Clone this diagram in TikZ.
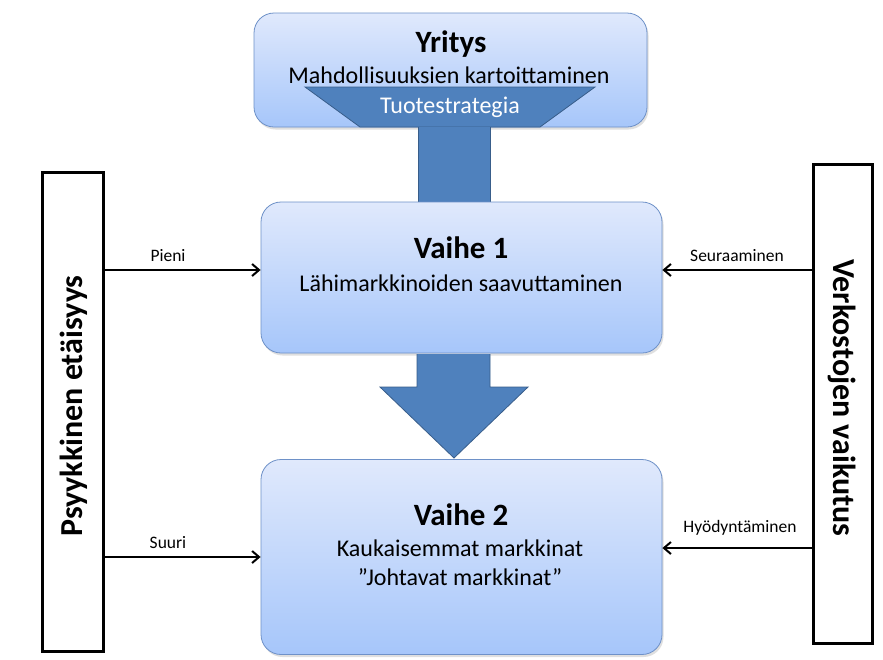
\documentclass[tikz,border=0pt]{standalone}
\usepackage{fontspec}
\setmainfont{Carlito}
\usetikzlibrary{arrows.meta,shadows}
\definecolor{boxtop}{RGB}{224,233,252}
\definecolor{boxbot}{RGB}{166,198,250}
\definecolor{boxline}{RGB}{110,145,200}
\definecolor{arrfill}{RGB}{79,129,189}
\definecolor{arrline}{RGB}{56,93,138}
\tikzset{
  stagebox/.style={draw=boxline, line width=0.8pt, rounded corners=20pt, top color=boxtop, bottom color=boxbot,
    drop shadow={opacity=0.25, shadow xshift=1.5pt, shadow yshift=-2.5pt}},
  sidebox/.style={draw=black, line width=3pt, fill=white},
  bigarrow/.style={fill=arrfill, draw=arrline, line width=0.8pt},
  conn/.style={draw=black, line width=2pt, -{Straight Barb[length=7pt,width=12pt,line width=2pt]}},
  ttl/.style={font=\fontsize{31}{36}\selectfont\bfseries},
  sub/.style={font=\fontsize{24}{28}\selectfont},
  lbl/.style={font=\fontsize{17.5}{20}\selectfont},
  side/.style={font=\fontsize{32}{36}\selectfont\bfseries},
}
\begin{document}
\begin{tikzpicture}[x=1pt,y=-1pt]
\useasboundingbox[fill=white] (0,0) rectangle (883,659);
% stem between top box and Vaihe 1
\path[bigarrow] (418,120) rectangle (490,210);
% top box
\node[stagebox, minimum width=393pt, minimum height=114pt, inner sep=0pt] (top) at (450.5,70) {};
\node[ttl] (ytitle) at (451,44) {Yritys};
\node[sub] (ysub) at (449,75) {Mahdollisuuksien kartoittaminen};
\path[bigarrow] (305,87) -- (595,87) -- (540,127) -- (360,127) -- cycle;
\node[sub, text=white] (tuote) at (450,107) {Tuotestrategia};
\path[bigarrow] (418,127.4) -- (418,205) -- (490,205) -- (490,127.4);
% Vaihe 1
\node[stagebox, minimum width=401pt, minimum height=151pt, inner sep=0pt] (v1) at (461.5,277.5) {};
\node[ttl] (v1t) at (461,248) {Vaihe 1};
\node[sub] (v1s) at (461,283) {Lähimarkkinoiden saavuttaminen};
% big down arrow
\path[bigarrow] (417,354) -- (417,387) -- (380,387) -- (454,458) -- (528,387) -- (490,387) -- (490,354);
% Vaihe 2
\node[stagebox, minimum width=401pt, minimum height=195pt, inner sep=0pt] (v2) at (461.5,557) {};
\node[ttl] (v2t) at (461,515) {Vaihe 2};
\node[sub] (v2s) at (460,548) {Kaukaisemmat markkinat};
\node[sub] (v2s2) at (460,577) {”Johtavat markkinat”};
% side boxes
\node[sidebox, minimum width=61pt, minimum height=479pt, inner sep=0pt] (left) at (72.5,411.5) {};
\node[side, rotate=90] (lefttxt) at (74,406) {Psyykkinen etäisyys};
\node[sidebox, minimum width=59pt, minimum height=479pt, inner sep=0pt] (right) at (842.5,403.5) {};
\node[side, rotate=-90] (righttxt) at (842,398) {Verkostojen vaikutus};
% connectors
\coordinate (a1) at (left.east |- 0,270);
\coordinate (a2) at (left.east |- 0,557);
\coordinate (b1) at (right.west |- 0,270);
\coordinate (b2) at (right.west |- 0,548);
\draw[conn] (a1) -- (a1 -| v1.west);
\draw[conn] (a2) -- (a2 -| v2.west);
\draw[conn] (b1) -- (b1 -| v1.east);
\draw[conn] (b2) -- (b2 -| v2.east);
\node[lbl] (pieni) at (168,256) {Pieni};
\node[lbl] (suuri) at (168,543) {Suuri};
\node[lbl] (seur) at (737,256) {Seuraaminen};
\node[lbl] (hyod) at (740,528) {Hyödyntäminen};
\end{tikzpicture}
\end{document}
